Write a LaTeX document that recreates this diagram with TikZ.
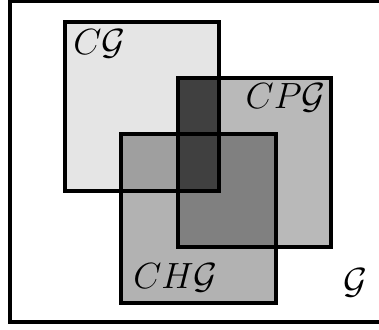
\documentclass[tikz,border=0pt]{standalone}
\usepackage{amsmath,amssymb}
\usepackage{xcolor}
\usepackage{tikz}

\definecolor{cgfill}{gray}{0.90}
\definecolor{cpgfill}{gray}{0.725}
\definecolor{chgfill}{gray}{0.70}
\definecolor{cgchg}{gray}{0.625}
\definecolor{cpgchg}{gray}{0.50}
\definecolor{cgcpg}{gray}{0.25}

\begin{document}
\begin{tikzpicture}[x=0.02cm, y=-0.02cm, every node/.style={inner sep=0pt, font=\huge}, box/.style={draw, line width=1.9pt}]
\useasboundingbox (0,0) rectangle (379,329);
% Regions
\fill[cgfill] (65,22) rectangle (219,191);
\fill[cpgfill] (178,78) rectangle (331,247);
\fill[chgfill] (121,134) rectangle (276,303);
\fill[cgchg] (121,134) rectangle (219,191);
\fill[cpgchg] (178,134) rectangle (276,247);
\fill[cgcpg] (178,78) rectangle (219,191);
% Boxes
\draw[box] (10,1) rectangle (390,322);
\draw[box] (65,22) rectangle (219,191);
\draw[box] (178,78) rectangle (331,247);
\draw[box] (121,134) rectangle (276,303);
% Labels
\node[anchor=base west] (cg) at (73,54) {$C\mathcal{G}$};
\node[anchor=base east] (cpg) at (326,108) {$CP\mathcal{G}$};
\node[anchor=base west] (chg) at (133,288) {$CH\mathcal{G}$};
\node[anchor=base west] (g) at (343,293) {$\mathcal{G}$};
\end{tikzpicture}
\end{document}
